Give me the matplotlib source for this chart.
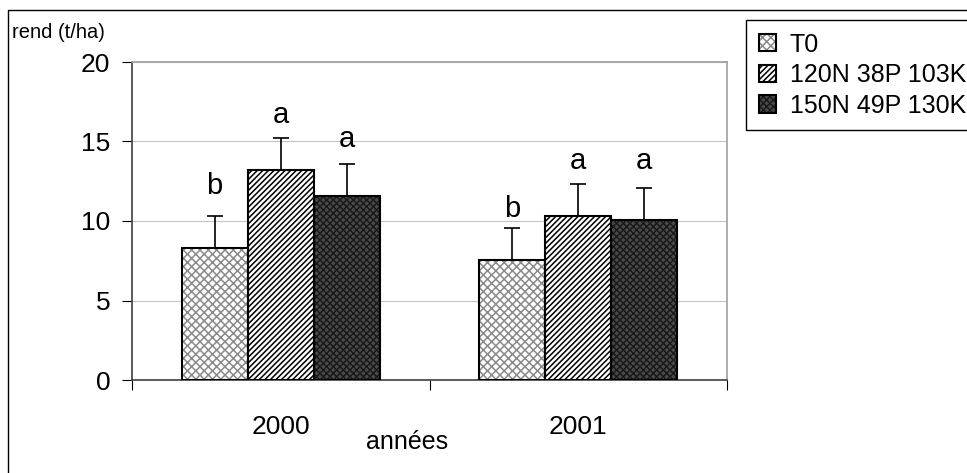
import matplotlib
matplotlib.use("Agg")
import matplotlib.pyplot as plt
from matplotlib.lines import Line2D
from matplotlib.legend_handler import HandlerTuple
import numpy as np

# Yields (t/ha) per year and fertilisation treatment
years = ["2000", "2001"]
treatments = ["T0", "120N 38P 103K", "150N 49P 130K"]
yield_t0 = [8.3, 7.57]
yield_120n = [13.2, 10.3]
yield_150n = [11.55, 10.04]
err_t0 = [2.0, 1.96]
err_120n = [2.04, 2.03]
err_150n = [2.05, 2.03]
# significance letters and the height of their baselines
letters_t0 = ["b", "b"]
letters_120n = ["a", "a"]
letters_150n = ["a", "a"]
letter_y_t0 = [11.7, 10.25]
letter_y_120n = [16.15, 13.3]
letter_y_150n = [14.65, 13.3]

W, H = 967, 473
plt.rcParams["font.family"] = ["Liberation Sans", "DejaVu Sans"]
plt.rcParams["hatch.linewidth"] = 1.1

fig = plt.figure(figsize=(W / 100, H / 100), dpi=100)
ax = fig.add_axes([132 / W, 1 - 380 / H, (727 - 132) / W, (380 - 62) / H])

styles = [
    dict(face="white", hatch="xxxx", hcolor="#8a8a8a"),
    dict(face="white", hatch="//////", hcolor="black"),
    dict(face="#4a4a4a", hatch="xxxxx", hcolor="#1a1a1a"),
]
series = [yield_t0, yield_120n, yield_150n]
errors = [err_t0, err_120n, err_150n]
letters = [letters_t0, letters_120n, letters_150n]
letter_ys = [letter_y_t0, letter_y_120n, letter_y_150n]

x = np.arange(len(years))
width = 2 / 9
handles = []
for i, (vals, errs, st) in enumerate(zip(series, errors, styles)):
    pos = x + (i - 1) * width
    fill = ax.bar(pos, vals, width, color=st["face"], hatch=st["hatch"],
                  edgecolor=st["hcolor"], linewidth=0, zorder=2)
    outline = ax.bar(pos, vals, width, facecolor="none", edgecolor="black",
                     linewidth=1.5, zorder=3)
    ax.errorbar(pos, vals, yerr=[np.zeros(len(vals)), errs], fmt="none",
                ecolor="black", elinewidth=1.2, capsize=6, capthick=1.2, zorder=4)
    for px, lab, ly in zip(pos, letters[i], letter_ys[i]):
        ax.text(px, ly, lab, ha="center", va="baseline", fontsize=21)
    handles.append((fill.patches[0], outline.patches[0]))

ax.set_xlim(-0.5, 1.5)
ax.set_ylim(0, 20)
ax.set_yticks([0, 5, 10, 15, 20])
ax.tick_params(axis="y", direction="out", length=7, width=0.8, pad=8.5,
               labelsize=19, colors="black")
ax.set_xticks(x)
ax.set_xticklabels(years)
ax.tick_params(axis="x", which="major", length=0, pad=25, labelsize=19)
ax.set_xticks([-0.5, 0.5, 1.5], minor=True)
ax.tick_params(axis="x", which="minor", direction="out", length=7, width=0.8)
ax.yaxis.grid(True, color="#c4c4c4", linewidth=0.8, zorder=0)
ax.set_axisbelow(True)
for side in ("top", "right"):
    ax.spines[side].set_color("#a0a0a0")
    ax.spines[side].set_linewidth(1.2)
for side in ("left", "bottom"):
    ax.spines[side].set_color("#404040")
    ax.spines[side].set_linewidth(1.2)

fig.text(12 / W, 1 - 33 / H, "rend (t/ha)", fontsize=14.5, ha="left", va="center")
fig.text(407 / W, 1 - 442 / H, "années", fontsize=18, ha="center", va="center")

leg = fig.legend(handles, treatments, loc="upper left",
                 bbox_to_anchor=(746 / W, 1 - 20 / H), borderaxespad=0,
                 fontsize=18, frameon=True, fancybox=False, framealpha=1,
                 edgecolor="black", borderpad=0.5, labelspacing=0.27,
                 handlelength=0.7, handleheight=0.7, handletextpad=0.55,
                 handler_map={tuple: HandlerTuple(ndivide=1, pad=0)})
leg.get_frame().set_linewidth(1.0)

# outer chart frame
fig.add_artist(Line2D([8 / W, 8 / W, 1.0], [0.0, 1 - 10 / H, 1 - 10 / H],
                      transform=fig.transFigure, color="black", linewidth=1.0))

fig.savefig("out.png", dpi=100)
